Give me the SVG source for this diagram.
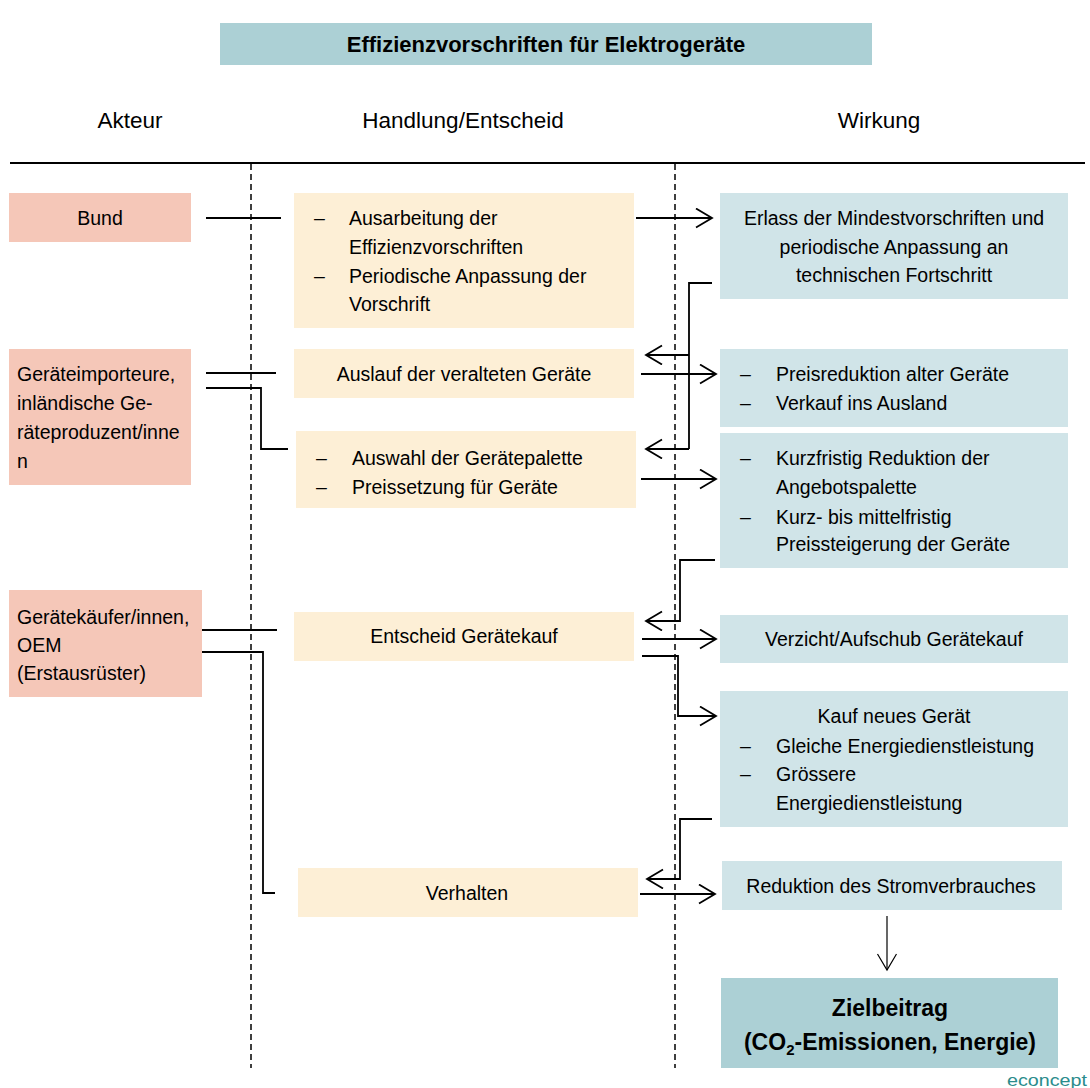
<svg xmlns="http://www.w3.org/2000/svg" width="1090" height="1088" viewBox="0 0 1090 1088">
  <style>
    text { font-family: "Liberation Sans", Arial, sans-serif; fill: #000; }
    .t { font-size: 19.5px; }
    .c { text-anchor: middle; }
    .h { font-size: 22.5px; text-anchor: middle; }
    .b { font-weight: bold; }
    .actor { fill: #f5c7b8; }
    .act { fill: #fdefd6; }
    .eff { fill: #d0e4e8; }
    .goal { fill: #acd0d5; }
    .ln { fill: none; stroke: #000; stroke-width: 1.8; }
    .ar { fill: none; stroke: #000; stroke-width: 1.8; marker-end: url(#head); }
    .dash { stroke: #000; stroke-width: 1.5; stroke-dasharray: 6 4; }
  </style>
  <defs>
    <marker id="head" markerUnits="userSpaceOnUse" markerWidth="20" markerHeight="22" refX="17" refY="10" orient="auto">
      <path d="M1,0.5 L17,10 L1,19.5" fill="none" stroke="#000" stroke-width="1.8"/>
    </marker>
    <marker id="headThin" markerUnits="userSpaceOnUse" markerWidth="20" markerHeight="22" refX="17" refY="10" orient="auto">
      <path d="M1,0.5 L17,10 L1,19.5" fill="none" stroke="#000" stroke-width="1.2"/>
    </marker>
  </defs>

  <!-- Title -->
  <g id="title">
    <rect class="goal" x="220" y="23" width="652" height="42"/>
    <text class="b c" x="546" y="52" font-size="22">Effizienzvorschriften für Elektrogeräte</text>
  </g>

  <!-- Column headers and frame -->
  <g id="headers">
    <text class="h" x="130" y="128">Akteur</text>
    <text class="h" x="463" y="128">Handlung/Entscheid</text>
    <text class="h" x="879" y="128">Wirkung</text>
    <line x1="10" y1="163" x2="1085" y2="163" stroke="#000" stroke-width="2"/>
    <line class="dash" x1="251" y1="164" x2="251" y2="1068"/>
    <line class="dash" x1="675" y1="164" x2="675" y2="1068"/>
  </g>

  <!-- Actors -->
  <g id="bund">
    <rect class="actor" x="9" y="193" width="182" height="49"/>
    <text class="t c" x="100" y="225">Bund</text>
  </g>
  <g id="importeure">
    <rect class="actor" x="9" y="349" width="182" height="136"/>
    <text class="t" x="17" y="381">Geräteimporteure,</text>
    <text class="t" x="17" y="410">inländische Ge-</text>
    <text class="t" x="17" y="439">räteproduzent/inne</text>
    <text class="t" x="17" y="468">n</text>
  </g>
  <g id="kaeufer">
    <rect class="actor" x="9" y="590" width="193" height="107"/>
    <text class="t" x="17" y="624">Gerätekäufer/innen,</text>
    <text class="t" x="17" y="652">OEM</text>
    <text class="t" x="17" y="680">(Erstausrüster)</text>
  </g>

  <!-- Actions / decisions -->
  <g id="ausarbeitung">
    <rect class="act" x="294" y="193" width="340" height="135"/>
    <text class="t" x="314" y="225">–</text>
    <text class="t" x="349" y="225">Ausarbeitung der</text>
    <text class="t" x="349" y="254">Effizienzvorschriften</text>
    <text class="t" x="314" y="283">–</text>
    <text class="t" x="349" y="283">Periodische Anpassung der</text>
    <text class="t" x="349" y="311">Vorschrift</text>
  </g>
  <g id="auslauf">
    <rect class="act" x="294" y="349" width="340" height="49"/>
    <text class="t c" x="464" y="381">Auslauf der veralteten Geräte</text>
  </g>
  <g id="auswahl">
    <rect class="act" x="296" y="431" width="340" height="77"/>
    <text class="t" x="316" y="465">–</text>
    <text class="t" x="352" y="465">Auswahl der Gerätepalette</text>
    <text class="t" x="316" y="494">–</text>
    <text class="t" x="352" y="494">Preissetzung für Geräte</text>
  </g>
  <g id="entscheid">
    <rect class="act" x="294" y="612" width="340" height="49"/>
    <text class="t c" x="464" y="643">Entscheid Gerätekauf</text>
  </g>
  <g id="verhalten">
    <rect class="act" x="298" y="868" width="340" height="49"/>
    <text class="t c" x="467" y="900">Verhalten</text>
  </g>

  <!-- Effects -->
  <g id="erlass">
    <rect class="eff" x="720" y="193" width="348" height="106"/>
    <text class="t c" x="894" y="225">Erlass der Mindestvorschriften und</text>
    <text class="t c" x="894" y="254">periodische Anpassung an</text>
    <text class="t c" x="894" y="282">technischen Fortschritt</text>
  </g>
  <g id="preisreduktion">
    <rect class="eff" x="720" y="349" width="348" height="78"/>
    <text class="t" x="740" y="381">–</text>
    <text class="t" x="776" y="381">Preisreduktion alter Geräte</text>
    <text class="t" x="740" y="410">–</text>
    <text class="t" x="776" y="410">Verkauf ins Ausland</text>
  </g>
  <g id="angebot">
    <rect class="eff" x="720" y="433" width="348" height="135"/>
    <text class="t" x="740" y="465">–</text>
    <text class="t" x="776" y="465">Kurzfristig Reduktion der</text>
    <text class="t" x="776" y="494">Angebotspalette</text>
    <text class="t" x="740" y="524">–</text>
    <text class="t" x="776" y="524">Kurz- bis mittelfristig</text>
    <text class="t" x="776" y="551">Preissteigerung der Geräte</text>
  </g>
  <g id="verzicht">
    <rect class="eff" x="720" y="615" width="348" height="48"/>
    <text class="t c" x="894" y="646">Verzicht/Aufschub Gerätekauf</text>
  </g>
  <g id="kauf">
    <rect class="eff" x="720" y="691" width="348" height="136"/>
    <text class="t c" x="894" y="723">Kauf neues Gerät</text>
    <text class="t" x="740" y="753">–</text>
    <text class="t" x="776" y="753">Gleiche Energiedienstleistung</text>
    <text class="t" x="740" y="781">–</text>
    <text class="t" x="776" y="781">Grössere</text>
    <text class="t" x="776" y="810">Energiedienstleistung</text>
  </g>
  <g id="reduktion">
    <rect class="eff" x="722" y="861" width="340" height="49"/>
    <text class="t c" x="891" y="893">Reduktion des Stromverbrauches</text>
  </g>
  <g id="zielbeitrag">
    <rect class="goal" x="721" y="978" width="337" height="90"/>
    <text class="b c" x="890" y="1016" font-size="23">Zielbeitrag</text>
    <text class="b c" x="890" y="1050" font-size="23">(CO<tspan font-size="15" dy="5">2</tspan><tspan dy="-5">-Emissionen, Energie)</tspan></text>
  </g>

  <!-- Connectors -->
  <g id="connectors">
    <!-- actors to actions -->
    <path class="ln" d="M206,218 H281"/>
    <path class="ln" d="M206,373 H276"/>
    <path class="ln" d="M206,388 H261 V449 H288"/>
    <path class="ln" d="M202,630 H277"/>
    <path class="ln" d="M202,652 H263 V893 H275"/>

    <!-- actions to effects -->
    <path class="ar" d="M636,218 H712"/>
    <path class="ar" d="M641,374 H716"/>
    <path class="ar" d="M641,479 H716"/>
    <path class="ar" d="M642,639 H716"/>
    <path class="ar" d="M642,656 H678 V716 H716"/>
    <path class="ar" d="M640,894 H715"/>

    <!-- feedback from effects -->
    <path class="ln" d="M712,283 H689 V449"/>
    <path class="ar" d="M689,355 H646"/>
    <path class="ar" d="M689,449 H646"/>
    <path class="ar" d="M715,560 H680 V621 H646"/>
    <path class="ar" d="M712,819 H680 V879 H647"/>

    <!-- to target contribution -->
    <path d="M887,916 V970" fill="none" stroke="#000" stroke-width="1.2" marker-end="url(#headThin)"/>
  </g>

  <text x="1087" y="1086" font-size="17" text-anchor="end" style="fill:#2b8c8c" textLength="80" lengthAdjust="spacingAndGlyphs">econcept</text>
</svg>
